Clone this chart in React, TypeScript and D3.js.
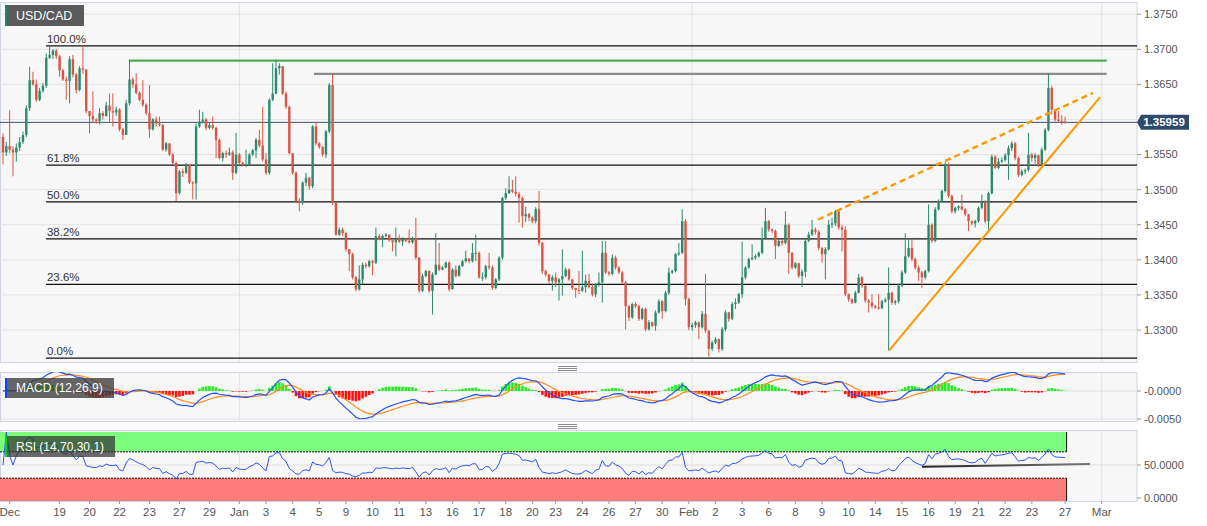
import React from "react";
import * as d3 from "d3";

// USD/CAD 4H candles, values in pips above 1.3000 (open = previous close)
const firstOpen = 575;
const closePips = [
  553, 562, 557, 553, 560, 568, 578, 616, 656, 650,
  628, 641, 648, 688, 692, 698, 690, 670, 657, 655,
  686, 664, 642, 673, 671, 612, 605, 600, 598, 609,
  605, 620, 612, 610, 614, 586, 578, 623, 657, 650,
  638, 628, 621, 609, 586, 600, 594, 592, 557, 566,
  550, 538, 495, 526, 524, 536, 510, 509, 590, 597,
  600, 588, 592, 588, 571, 545, 552, 550, 553, 524,
  550, 538, 535, 536, 550, 556, 571, 563, 543, 524,
  628, 637, 673, 676, 637, 618, 552, 524, 484, 482,
  510, 517, 505, 590, 566, 561, 550, 583, 649, 481,
  436, 443, 438, 415, 408, 375, 358, 372, 393, 391,
  398, 396, 434, 430, 434, 436, 428, 425, 430, 426,
  430, 427, 425, 431, 403, 356, 377, 384, 356, 379,
  393, 386, 389, 396, 358, 386, 377, 391, 398, 402,
  398, 410, 410, 375, 375, 391, 389, 360, 372, 403,
  488, 495, 500, 497, 494, 488, 462, 465, 460, 455,
  472, 424, 384, 379, 370, 375, 368, 372, 377, 386,
  372, 360, 357, 356, 361, 370, 361, 351, 365, 368,
  410, 382, 380, 403, 389, 382, 368, 334, 318, 337,
  334, 316, 330, 301, 311, 306, 325, 341, 327, 353,
  382, 384, 408, 410, 455, 344, 304, 307, 311, 304,
  323, 299, 273, 282, 287, 273, 301, 325, 316, 337,
  339, 351, 375, 389, 401, 403, 405, 410, 431, 455,
  443, 441, 420, 427, 424, 450, 410, 389, 395, 377,
  383, 427, 436, 443, 440, 417, 408, 415, 450, 452,
  469, 446, 443, 351, 344, 339, 353, 375, 363, 342,
  339, 334, 332, 331, 341, 343, 353, 339, 341, 363,
  382, 405, 417, 401, 389, 382, 375, 384, 450, 427,
  472, 484, 498, 536, 491, 469, 474, 476, 472, 465,
  455, 452, 455, 474, 483, 455, 495, 547, 531, 540,
  542, 549, 559, 566, 545, 521, 526, 528, 550, 545,
  549, 536, 557, 585, 645, 614, 600, 598, 597, 595.9,
];
const highPips = [
  580, 568, 613, 562, 566, 575, 583, 620, 675, 668,
  657, 645, 652, 694, 704, 700, 700, 692, 672, 661,
  690, 692, 666, 676, 705, 672, 612, 640, 602, 616,
  612, 625, 637, 637, 618, 616, 588, 628, 685, 660,
  666, 640, 656, 623, 649, 602, 604, 604, 594, 568,
  566, 552, 540, 528, 530, 538, 535, 512, 594, 614,
  611, 602, 596, 604, 590, 573, 554, 556, 560, 556,
  581, 552, 540, 557, 552, 558, 574, 585, 618, 552,
  630, 680, 685, 680, 676, 640, 620, 552, 526, 488,
  512, 524, 518, 592, 595, 568, 562, 585, 652, 666,
  482, 446, 446, 440, 414, 410, 377, 392, 396, 396,
  400, 400, 446, 437, 436, 438, 436, 428, 446, 436,
  432, 431, 443, 433, 460, 404, 380, 386, 385, 382,
  438, 424, 391, 398, 398, 388, 392, 393, 400, 413,
  402, 424, 436, 412, 382, 393, 410, 392, 374, 405,
  490, 502, 519, 514, 519, 497, 490, 476, 467, 462,
  475, 498, 426, 386, 380, 378, 382, 374, 415, 389,
  388, 373, 360, 384, 413, 379, 380, 365, 367, 382,
  427, 427, 384, 408, 406, 391, 384, 370, 336, 339,
  340, 336, 332, 332, 314, 312, 328, 344, 343, 356,
  389, 386, 410, 424, 472, 458, 346, 310, 313, 312,
  327, 380, 300, 285, 290, 288, 304, 328, 326, 340,
  345, 353, 426, 391, 403, 422, 408, 412, 446, 474,
  457, 445, 443, 429, 429, 469, 452, 411, 397, 396,
  386, 430, 440, 457, 446, 442, 418, 418, 457, 460,
  471, 470, 450, 448, 352, 345, 356, 380, 377, 364,
  344, 351, 336, 351, 343, 346, 389, 355, 343, 366,
  385, 438, 429, 429, 403, 392, 384, 386, 479, 452,
  475, 486, 500, 540, 538, 493, 476, 478, 493, 474,
  463, 456, 457, 476, 493, 485, 497, 550, 549, 545,
  546, 552, 563, 569, 568, 547, 529, 530, 581, 552,
  552, 550, 560, 588, 666, 648, 615, 612, 606, 604,
];
const lowPips = [
  536, 548, 552, 519, 540, 555, 565, 575, 612, 648,
  625, 626, 638, 645, 686, 686, 686, 661, 655, 628,
  623, 660, 637, 640, 665, 609, 580, 596, 594, 593,
  600, 604, 597, 590, 605, 583, 571, 578, 620, 645,
  636, 626, 618, 606, 574, 584, 590, 590, 555, 554,
  548, 535, 484, 493, 518, 522, 508, 486, 486, 588,
  594, 585, 586, 585, 545, 543, 540, 545, 548, 514,
  522, 535, 533, 532, 534, 548, 545, 560, 540, 521,
  521, 626, 636, 664, 635, 615, 550, 521, 482, 469,
  478, 505, 500, 502, 563, 558, 547, 545, 580, 478,
  434, 434, 434, 412, 384, 372, 355, 356, 365, 388,
  389, 378, 394, 428, 418, 432, 426, 412, 405, 424,
  420, 425, 423, 423, 400, 353, 354, 375, 353, 322,
  378, 384, 385, 388, 355, 358, 375, 376, 390, 396,
  395, 396, 398, 373, 370, 372, 386, 357, 358, 370,
  400, 485, 494, 495, 490, 453, 446, 454, 455, 452,
  452, 420, 380, 376, 366, 356, 361, 342, 349, 375,
  370, 357, 346, 351, 354, 353, 359, 348, 347, 362,
  339, 380, 377, 378, 386, 380, 366, 301, 313, 316,
  331, 313, 314, 298, 299, 304, 299, 323, 316, 325,
  350, 380, 382, 406, 408, 335, 300, 299, 303, 287,
  302, 296, 262, 270, 280, 268, 270, 298, 312, 314,
  330, 337, 345, 372, 387, 399, 400, 403, 408, 429,
  440, 438, 401, 418, 420, 422, 380, 386, 387, 374,
  361, 375, 425, 434, 436, 414, 396, 372, 413, 445,
  448, 443, 412, 348, 340, 337, 338, 352, 360, 339,
  325, 331, 330, 329, 330, 339, 270.5, 336, 336, 338,
  361, 380, 403, 398, 386, 370, 360, 372, 382, 424,
  425, 470, 482, 496, 488, 466, 466, 470, 470, 462,
  441, 449, 446, 453, 472, 452, 443, 493, 529, 529,
  538, 540, 514, 555, 542, 518, 519, 522, 526, 540,
  537, 532, 533, 555, 583, 607, 597, 596, 592, 594,
];

const priceTicks = [1.33, 1.335, 1.34, 1.345, 1.35, 1.355, 1.36, 1.365, 1.37, 1.375];
const xTickLabels = ["Dec", "19", "20", "22", "23", "27", "29", "Jan", "3", "4", "5", "9", "10", "11", "13", "16", "17", "18", "20", "23", "24", "26", "27", "30", "Feb", "2", "3", "6", "8", "9", "10", "14", "15", "16", "19", "21", "22", "23", "27", "Mar"];
const xTickIdx = [2, 17, 26, 35, 44, 53, 62, 71, 79, 87, 95, 103, 111, 119, 127, 135, 143, 151, 159, 166, 174, 182, 190, 198, 206, 214, 222, 230, 238, 246, 254, 262, 270, 278, 286, 293, 301, 309, 319, 330];
const monthIdx = [71, 207, 330];

const fibRatios = [1, 0.618, 0.5, 0.382, 0.236, 0];
const fibLabels = ["100.0%", "61.8%", "50.0%", "38.2%", "23.6%", "0.0%"];
const fibHigh = 1.3705;
const fibLow = 1.326;
const fibStartIdx = 12.9;

const greenLevel = { from: 37.8, to: 331.5, price: 1.3684 };
const grayLevel = { from: 93.4, to: 331.5, price: 1.3665 };
const supportLine: [number, number][] = [[266.1, 1.32705], [329.5, 1.36318]];
const upperLine: [number, number][] = [[244.8, 1.34575], [327.4, 1.36379]];
const rsiTrend: [number, number][] = [[276, 47.4], [326.5, 51.5]];
const lastPrice = 1.35959;

const macdTicks = [0, -0.005];
const macdTickLabels = ["-0.0000", "-0.0050"];
const rsiTicks = [50, 0];
const rsiTickLabels = ["50.0000", "0.0000"];

const FONT = "Arial, 'Liberation Sans', Helvetica, sans-serif";
const UP = "#2b8a6e";
const DOWN = "#d75643";

const ema = (arr: number[], n: number) => {
  const k = 2 / (n + 1);
  let prev = arr[0];
  return arr.map((v, i) => (prev = i === 0 ? v : v * k + prev * (1 - k)));
};

export default function App() {
  const W = 1207;
  const H = 526;
  const plotRight = 1137;
  const main = { top: 2, bottom: 362 };
  const mac = { top: 372, bottom: 421 };
  const rs = { top: 430, bottom: 501 };

  const x = d3.scaleLinear().domain([-0.9, 340.6]).range([0, plotRight]);
  const y = d3.scaleLinear().domain([1.33, 1.37]).range([330, 49.3]);
  const yM = d3.scaleLinear().domain([0, -0.005]).range([391, 419]);
  const yR = d3.scaleLinear().domain([0, 100]).range([498, 432]);

  const p = (v: number) => 1.3 + v / 10000;
  const bars = closePips.map((c, i) => {
    const o = i === 0 ? firstOpen : closePips[i - 1];
    return {
      i,
      o: p(o),
      c: p(c),
      h: p(Math.max(highPips[i], o, c)),
      l: p(Math.min(lowPips[i], o, c)),
    };
  });

  const closes = bars.map((b) => b.c);
  const e12 = ema(closes, 12);
  const e26 = ema(closes, 26);
  const macd = e12.map((v, i) => v - e26[i]);
  const signal = ema(macd, 9);
  const hist = macd.map((v, i) => v - signal[i]);

  const rsi: number[] = [];
  let ag = 0;
  let al = 0;
  closes.forEach((c, i) => {
    if (i === 0) {
      rsi.push(50);
      return;
    }
    const d = c - closes[i - 1];
    const g = Math.max(d, 0);
    const l = Math.max(-d, 0);
    if (i <= 14) {
      ag = (ag * (i - 1) + g) / i;
      al = (al * (i - 1) + l) / i;
    } else {
      ag = (ag * 13 + g) / 14;
      al = (al * 13 + l) / 14;
    }
    rsi.push(al === 0 ? 100 : 100 - 100 / (1 + ag / al));
  });

  const macdLine = d3.line<number>().x((_, i) => x(i)).y((v) => yM(v));
  const rsiLine = d3.line<number>().x((_, i) => x(i)).y((v) => yR(v));
  const bodyW = 2.4;
  const lastX = x(bars.length - 1) + 1.5;
  const lastY = y(lastPrice);
  // axis labels hidden behind the current-price marker
  const shownPriceTicks = priceTicks.filter((t) => Math.abs(y(t) - lastY) > 12);

  const handle = (cy: number) => (
    <g stroke="#8a8a8a" strokeWidth={1}>
      {[-2, 0, 2].map((d) => (
        <line key={d} x1={558} x2={577} y1={Math.round(cy + d) + 0.5} y2={Math.round(cy + d) + 0.5} />
      ))}
    </g>
  );

  return (
    <svg width={W} height={H} style={{ position: "absolute", left: 0, top: 0, background: "#fff" }} fontFamily={FONT}>
      <defs>
        <clipPath id="cMain"><rect x={0} y={main.top} width={plotRight} height={main.bottom - main.top} /></clipPath>
        <clipPath id="cMacd"><rect x={0} y={mac.top} width={plotRight} height={mac.bottom - mac.top} /></clipPath>
        <clipPath id="cRsi"><rect x={0} y={rs.top} width={plotRight} height={rs.bottom - rs.top} /></clipPath>
        <linearGradient id="rsiTrendGrad" x1="0" x2="1" y1="0" y2="0">
          <stop offset="0" stopColor="#222" />
          <stop offset="1" stopColor="#777" />
        </linearGradient>
      </defs>

      {/* panel backgrounds */}
      {[main, mac, rs].map((pn, k) => (
        <rect key={k} x={0.5} y={pn.top + 0.5} width={plotRight - 0.5} height={pn.bottom - pn.top} fill="#f7f7f7" stroke="#cfd5e3" />
      ))}

      {/* ---------- main panel ---------- */}
      <g clipPath="url(#cMain)">
        {priceTicks.map((t) => (
          <line key={t} x1={0} x2={plotRight} y1={y(t)} y2={y(t)} stroke="#e3e3e3" />
        ))}
        {monthIdx.map((m) => (
          <line key={m} x1={x(m)} x2={x(m)} y1={main.top} y2={main.bottom} stroke="#e3e3e3" />
        ))}
        {fibRatios.map((r, k) => {
          const lv = fibLow + r * (fibHigh - fibLow);
          return (
            <g key={k}>
              <line x1={x(fibStartIdx)} x2={plotRight} y1={y(lv)} y2={y(lv)} stroke="#111" strokeWidth={1.3} />
              <text x={x(fibStartIdx) + 1} y={y(lv) - 3} fontSize={11.5} fill="#333">{fibLabels[k]}</text>
            </g>
          );
        })}
        <line x1={x(greenLevel.from)} x2={x(greenLevel.to)} y1={y(greenLevel.price)} y2={y(greenLevel.price)} stroke="#4caf50" strokeWidth={2.2} />
        <line x1={x(grayLevel.from)} x2={x(grayLevel.to)} y1={y(grayLevel.price)} y2={y(grayLevel.price)} stroke="#8a8a8a" strokeWidth={2.2} />
        <line x1={0} x2={plotRight} y1={lastY} y2={lastY} stroke="#3b4f6d" strokeWidth={1} />

        {bars.map((b) => {
          const col = b.c >= b.o ? UP : DOWN;
          const top = y(Math.max(b.o, b.c));
          const bot = y(Math.min(b.o, b.c));
          return (
            <g key={b.i}>
              <line x1={x(b.i)} x2={x(b.i)} y1={y(b.h)} y2={y(b.l)} stroke={col} strokeWidth={1} />
              <rect x={x(b.i) - bodyW / 2} y={top} width={bodyW} height={Math.max(1, bot - top)} fill={col} />
            </g>
          );
        })}

        <line x1={x(supportLine[0][0])} y1={y(supportLine[0][1])} x2={x(supportLine[1][0])} y2={y(supportLine[1][1])} stroke="#ff9800" strokeWidth={2} />
        <line x1={x(upperLine[0][0])} y1={y(upperLine[0][1])} x2={x(upperLine[1][0])} y2={y(upperLine[1][1])} stroke="#ff9800" strokeWidth={2.4} strokeDasharray="6,4" />
      </g>

      {/* legend box */}
      <rect x={5} y={5} width={79} height={21} fill="#5a5a5a" />
      <rect x={5} y={5} width={2} height={21} fill="#1f8a6a" />
      <text x={16} y={20} fontSize={12.5} fill="#fff">USD/CAD</text>

      {/* price axis */}
      {shownPriceTicks.map((t) => (
        <g key={t}>
          <line x1={plotRight} x2={plotRight + 4} y1={y(t)} y2={y(t)} stroke="#999" />
          <text x={plotRight + 7} y={y(t)} dy="0.35em" fontSize={11} fill="#555">{t.toFixed(4)}</text>
        </g>
      ))}
      <path
        d={`M${plotRight},${lastY} L${plotRight + 4},${lastY - 7.5} H1189 V${lastY + 7.5} H${plotRight + 4} Z`}
        fill="#2f4b6c"
      />
      <text x={1164} y={lastY} dy="0.36em" textAnchor="middle" fontSize={11.5} fontWeight="bold" fill="#fff">1.35959</text>

      {handle(368)}

      {/* ---------- MACD panel ---------- */}
      <g clipPath="url(#cMacd)">
        {macdTicks.map((t) => (
          <line key={t} x1={0} x2={plotRight} y1={yM(t)} y2={yM(t)} stroke="#e0e0e0" />
        ))}
        {monthIdx.map((m) => (
          <line key={m} x1={x(m)} x2={x(m)} y1={mac.top} y2={mac.bottom} stroke="#e3e3e3" />
        ))}
        {hist.map((v, i) => (
          <rect
            key={i}
            x={x(i) - 1.3}
            y={Math.min(yM(v), yM(0))}
            width={2.6}
            height={Math.abs(yM(v) - yM(0))}
            fill={v >= 0 ? "#22ee22" : "#ff1010"}
          />
        ))}
        <path d={macdLine(signal) || ""} fill="none" stroke="#ff8a1e" strokeWidth={1.2} />
        <path d={macdLine(macd) || ""} fill="none" stroke="#2450f0" strokeWidth={1.2} />
      </g>
      <rect x={5} y={378} width={109} height={20} fill="rgba(60,60,60,0.78)" />
      <rect x={5} y={378} width={2} height={20} fill="#1040ff" />
      <text x={16} y={392} fontSize={12} fill="#fff">MACD (12,26,9)</text>
      {macdTicks.map((t, k) => (
        <g key={t}>
          <line x1={plotRight} x2={plotRight + 4} y1={yM(t)} y2={yM(t)} stroke="#999" />
          <text x={plotRight + 7} y={yM(t)} dy="0.35em" fontSize={11} fill="#555">{macdTickLabels[k]}</text>
        </g>
      ))}

      {handle(426)}

      {/* ---------- RSI panel ---------- */}
      <g clipPath="url(#cRsi)">
        <line x1={0} x2={plotRight} y1={yR(50)} y2={yR(50)} stroke="#e0e0e0" />
        {monthIdx.map((m) => (
          <line key={m} x1={x(m)} x2={x(m)} y1={rs.top} y2={rs.bottom} stroke="#e3e3e3" />
        ))}
        <rect x={0} y={yR(100)} width={lastX} height={yR(70) - yR(100)} fill="#7dfb7d" />
        <rect x={0} y={yR(30)} width={lastX} height={rs.bottom - yR(30)} fill="#fe7c7c" />
        <line x1={0} x2={lastX} y1={yR(70)} y2={yR(70)} stroke="#111" strokeDasharray="2,1" />
        <line x1={0} x2={lastX} y1={yR(30)} y2={yR(30)} stroke="#111" strokeDasharray="2,1" />
        <line x1={lastX} x2={lastX} y1={yR(100)} y2={yR(70)} stroke="#111" />
        <line x1={lastX} x2={lastX} y1={yR(30)} y2={rs.bottom} stroke="#111" />
        <path d={rsiLine(rsi) || ""} fill="none" stroke="#2d55ee" strokeWidth={1} />
        <line x1={x(rsiTrend[0][0])} y1={yR(rsiTrend[0][1])} x2={x(rsiTrend[1][0])} y2={yR(rsiTrend[1][1])} stroke="url(#rsiTrendGrad)" strokeWidth={2} />
      </g>
      <rect x={5} y={436} width={110} height={21} fill="rgba(50,50,50,0.72)" />
      <rect x={5} y={436} width={2} height={21} fill="#00dd00" />
      <text x={16} y={451} fontSize={12} fill="#fff">RSI (14,70,30,1)</text>
      {rsiTicks.map((t, k) => (
        <g key={t}>
          <line x1={plotRight} x2={plotRight + 4} y1={yR(t)} y2={yR(t)} stroke="#999" />
          <text x={plotRight + 7} y={yR(t)} dy="0.35em" fontSize={11} fill="#555">{rsiTickLabels[k]}</text>
        </g>
      ))}

      {/* ---------- x axis ---------- */}
      {xTickIdx.map((ti, k) => (
        <g key={k}>
          <line x1={x(ti)} x2={x(ti)} y1={rs.bottom} y2={rs.bottom + 3} stroke="#999" />
          <text x={x(ti)} y={516} textAnchor="middle" fontSize={11.5} fill="#555">{xTickLabels[k]}</text>
        </g>
      ))}
    </svg>
  );
}
